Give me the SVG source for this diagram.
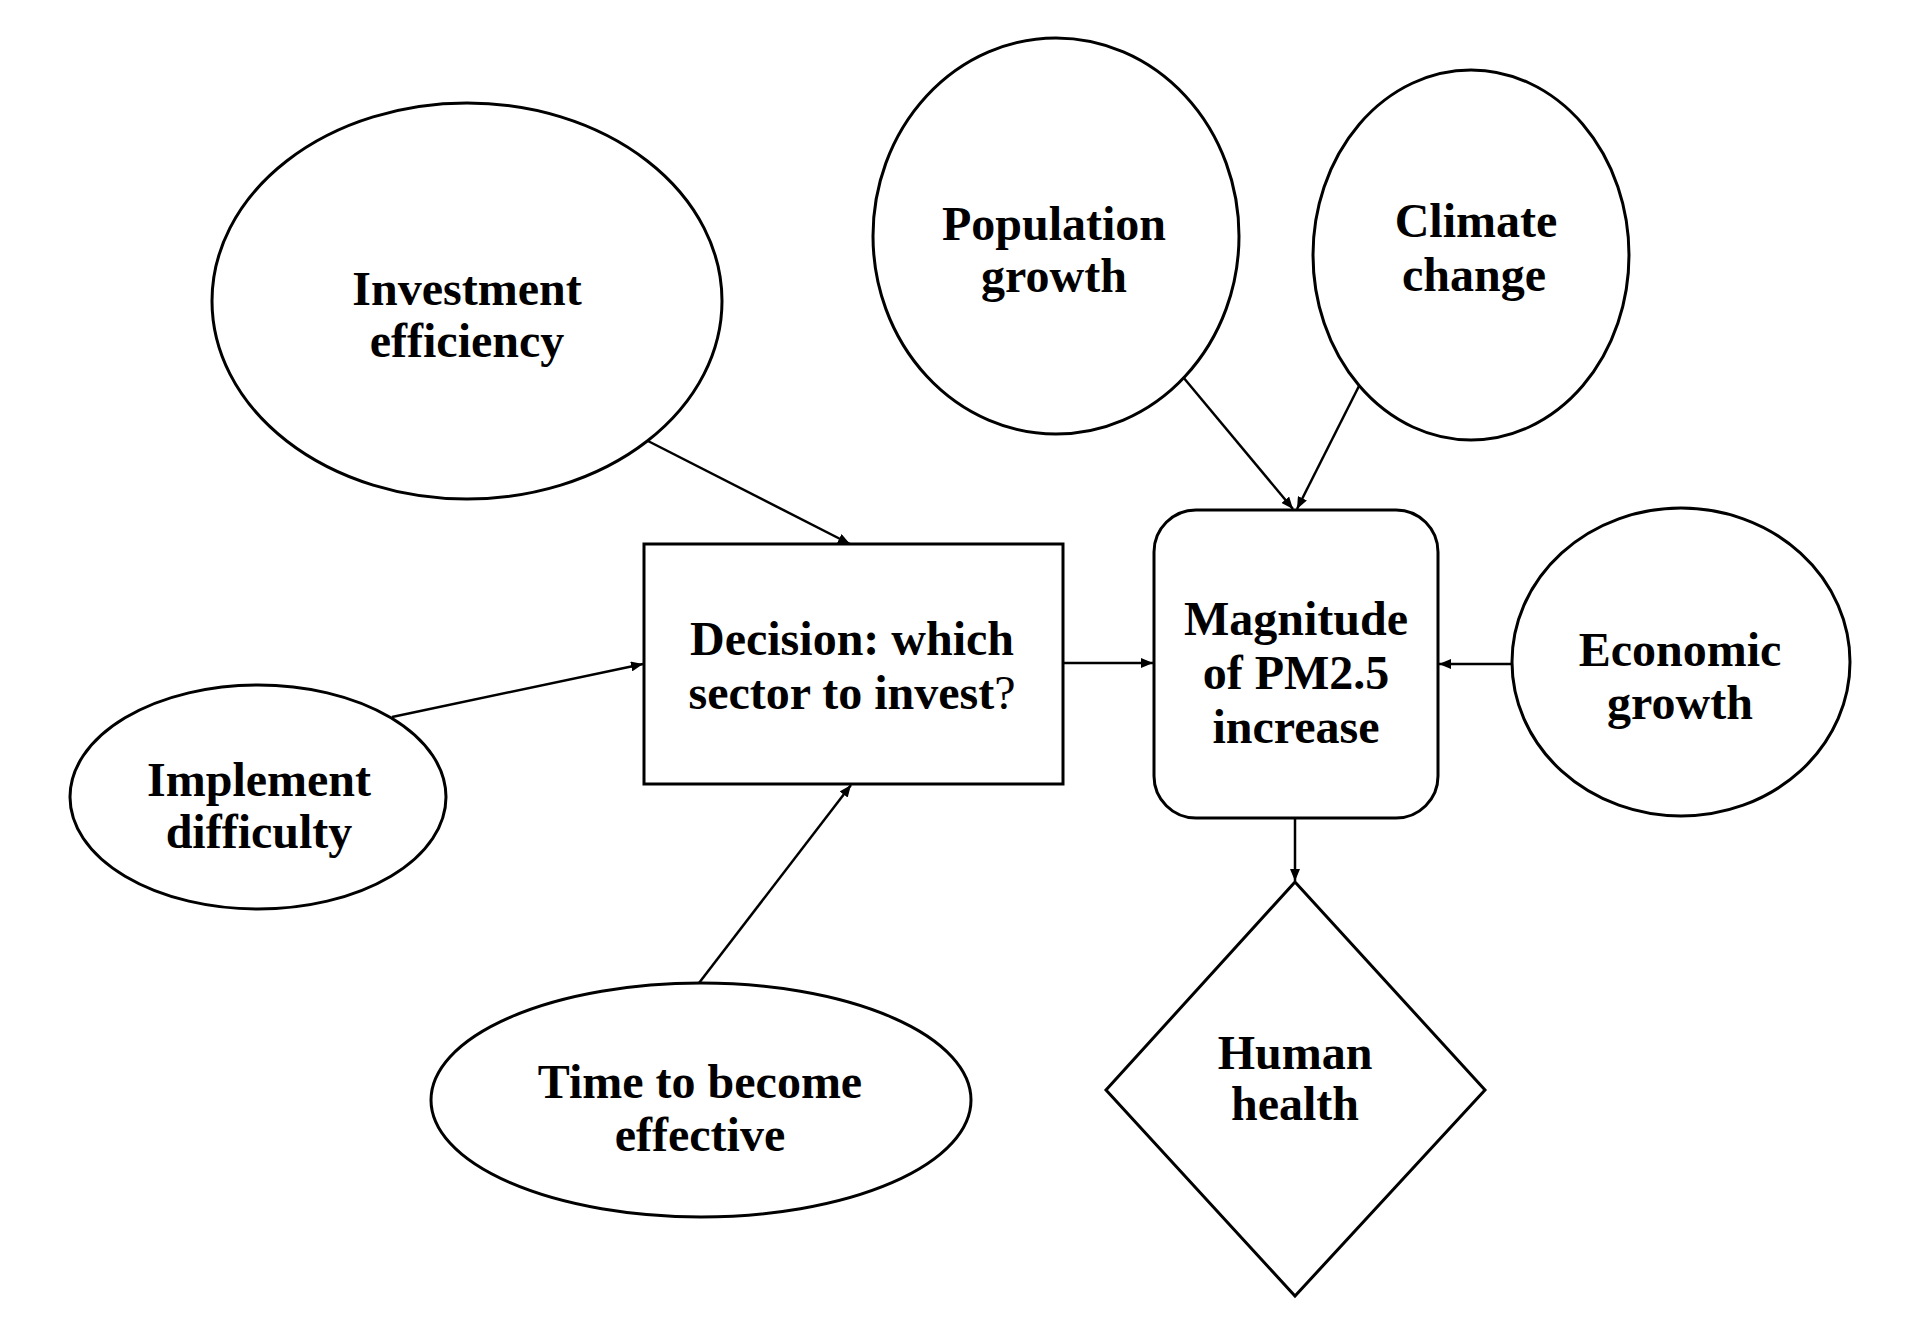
<svg xmlns="http://www.w3.org/2000/svg" width="1922" height="1322" viewBox="0 0 1922 1322">
<style>
.n{fill:#fff;stroke:#000;stroke-width:3}
.t{font-family:"Liberation Serif","Times New Roman",serif;font-weight:bold;font-size:48px;text-anchor:middle;fill:#000}
.c line{stroke:#000;stroke-width:2.5;fill:none}
</style>
<defs>
<marker id="ah" markerWidth="12" markerHeight="10" refX="12" refY="5" orient="auto" markerUnits="userSpaceOnUse">
<path d="M0,0 L12,5 L0,10 Z" fill="#000"/>
</marker>
</defs>
<rect width="1922" height="1322" fill="#fff"/>
<g id="investment">
<ellipse class="n" cx="467" cy="301" rx="255" ry="198"/>
<text class="t" x="467" y="305">Investment</text>
<text class="t" x="467" y="357">efficiency</text>
</g>
<g id="population">
<ellipse class="n" cx="1056" cy="236" rx="183" ry="198"/>
<text class="t" x="1054" y="240">Population</text>
<text class="t" x="1054" y="292">growth</text>
</g>
<g id="climate">
<ellipse class="n" cx="1471" cy="255" rx="158" ry="185"/>
<text class="t" x="1476" y="237">Climate</text>
<text class="t" x="1474" y="291">change</text>
</g>
<g id="decision">
<rect class="n" x="644" y="544" width="419" height="240"/>
<text class="t" x="852" y="655">Decision: which</text>
<text class="t" x="852" y="709">sector to invest<tspan font-weight="normal">?</tspan></text>
</g>
<g id="magnitude">
<rect class="n" x="1154" y="510" width="284" height="308" rx="42" ry="42"/>
<text class="t" x="1296" y="635">Magnitude</text>
<text class="t" x="1296" y="689">of PM2.5</text>
<text class="t" x="1296" y="743">increase</text>
</g>
<g id="economic">
<ellipse class="n" cx="1681" cy="662" rx="169" ry="154"/>
<text class="t" x="1680" y="666">Economic</text>
<text class="t" x="1680" y="719">growth</text>
</g>
<g id="implement">
<ellipse class="n" cx="258" cy="797" rx="188" ry="112"/>
<text class="t" x="259" y="796">Implement</text>
<text class="t" x="259" y="848">difficulty</text>
</g>
<g id="time">
<ellipse class="n" cx="701" cy="1100" rx="270" ry="117"/>
<text class="t" x="700" y="1098">Time to become</text>
<text class="t" x="700" y="1151">effective</text>
</g>
<g id="health">
<polygon class="n" points="1295,882 1485,1090 1295,1296 1106,1090"/>
<text class="t" x="1295" y="1069">Human</text>
<text class="t" x="1295" y="1120">health</text>
</g>
<g id="connectors" class="c">
<line x1="648" y1="441" x2="850" y2="544" marker-end="url(#ah)"/>
<line x1="392" y1="717" x2="643" y2="664" marker-end="url(#ah)"/>
<line x1="699" y1="983" x2="851" y2="785" marker-end="url(#ah)"/>
<line x1="1063" y1="663" x2="1153" y2="663" marker-end="url(#ah)"/>
<line x1="1512" y1="664" x2="1439" y2="664" marker-end="url(#ah)"/>
<line x1="1183" y1="377" x2="1293" y2="509" marker-end="url(#ah)"/>
<line x1="1359" y1="386" x2="1297" y2="509" marker-end="url(#ah)"/>
<line x1="1295" y1="818" x2="1295" y2="881" marker-end="url(#ah)"/>
</g>
</svg>
